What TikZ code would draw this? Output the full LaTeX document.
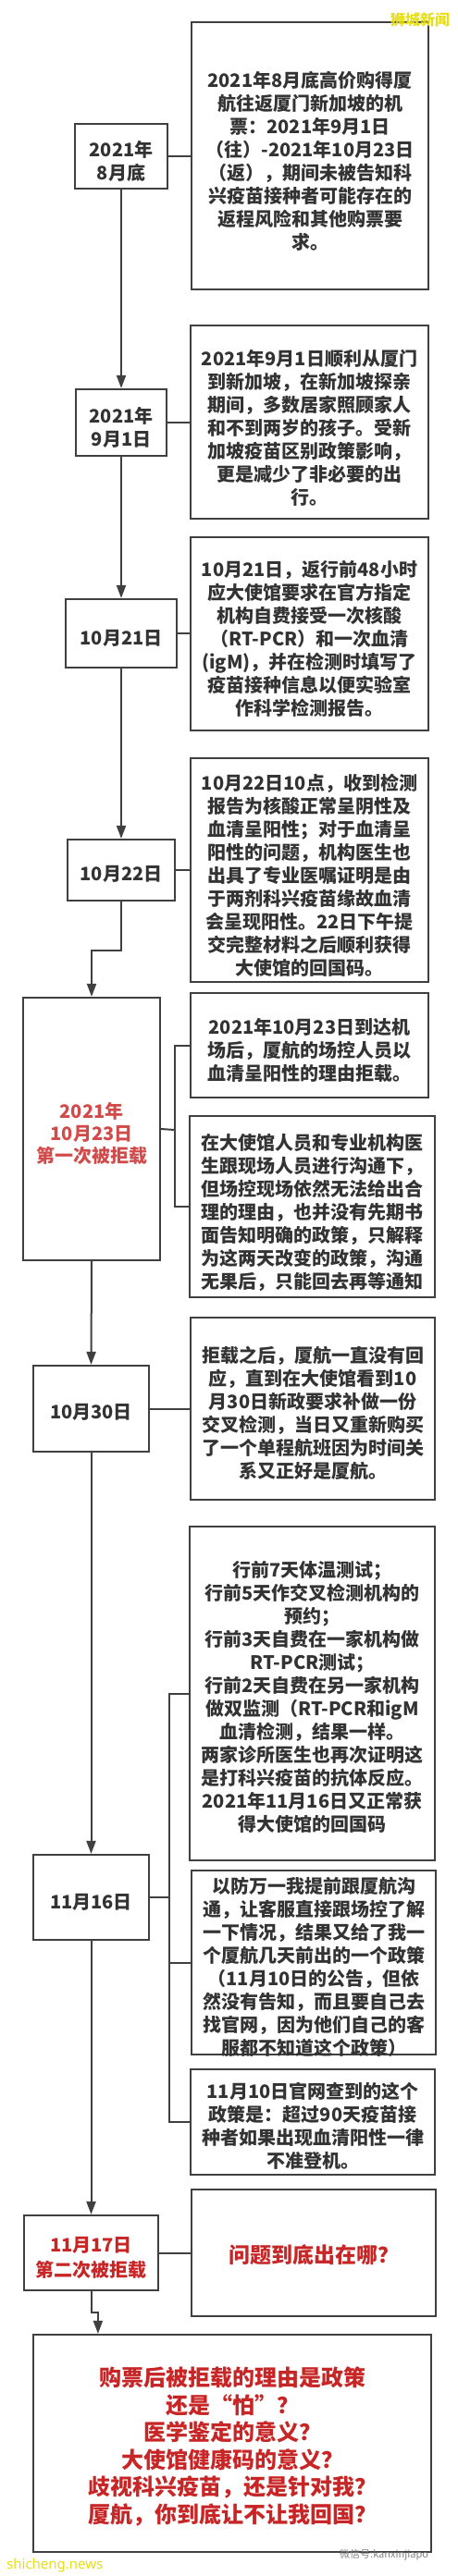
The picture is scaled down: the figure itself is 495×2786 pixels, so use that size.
\documentclass[tikz,border=0pt]{standalone}
\usepackage{fontspec}
\newfontfamily\cjk{Noto Sans CJK SC}
\newfontfamily\latinf{Noto Sans}
\usetikzlibrary{arrows.meta}
\definecolor{ln}{RGB}{64,64,64}
\definecolor{tx}{RGB}{51,51,51}
\definecolor{rd}{RGB}{200,38,38}
\definecolor{rdl}{RGB}{210,75,75}
\definecolor{wmy}{RGB}{232,222,20}
\definecolor{wmg}{RGB}{130,130,130}
\begin{document}
\begin{tikzpicture}[x=1pt,y=-1pt,
  box/.style={draw=ln, line width=2.2pt, fill=white, rectangle, inner sep=0pt},
  txt/.style={align=center, text=tx, font=\cjk\bfseries\fontsize{20}{25}\selectfont, inner sep=0pt},
  rtxt/.style={txt, text=rd},
  conn/.style={draw=ln, line width=2pt},
  arr/.style={conn, -{Triangle[length=14pt,width=10pt]}},
]
\useasboundingbox[fill=white] (0,0) rectangle (495,2786);

% left column boxes
\node[box, minimum width=100pt, minimum height=70pt] (L1) at (131,169) {};
\node[box, minimum width=98pt, minimum height=72pt] (L2) at (131,457) {};
\node[box, minimum width=120pt, minimum height=74pt] (L3) at (131,685) {};
\node[box, minimum width=116pt, minimum height=66pt] (L4) at (131,941) {};
\node[box, minimum width=148pt, minimum height=284pt] (L5) at (99,1221) {};
\node[box, minimum width=125pt, minimum height=93pt] (L6) at (98.5,1523.5) {};
\node[box, minimum width=125pt, minimum height=92pt] (L7) at (98.5,2052) {};
\node[box, minimum width=145pt, minimum height=81pt] (L8) at (98.5,2436.5) {};
\node[box, minimum width=430pt, minimum height=235pt] (Q) at (251,2642.5) {};

% right column boxes
\node[box, minimum width=256pt, minimum height=289pt] (R1) at (335,168.5) {};
\node[box, minimum width=257pt, minimum height=209pt] (R2) at (334.5,456.5) {};
\node[box, minimum width=257pt, minimum height=209pt] (R3) at (334.5,685.5) {};
\node[box, minimum width=257pt, minimum height=242pt] (R4) at (334.5,941) {};
\node[box, minimum width=257pt, minimum height=113pt] (R5a) at (334.5,1130.5) {};
\node[box, minimum width=265pt, minimum height=196pt] (R5b) at (337.5,1305) {};
\node[box, minimum width=264pt, minimum height=197pt] (R6) at (338,1523.5) {};
\node[box, minimum width=265pt, minimum height=361pt] (R7a) at (337.5,1831.5) {};
\node[box, minimum width=264pt, minimum height=199pt] (R7b) at (339,2122.5) {};
\node[box, minimum width=264pt, minimum height=114pt] (R7c) at (338,2295) {};
\node[box, minimum width=264pt, minimum height=137pt] (R8) at (339,2436.5) {};

% texts of left boxes
\node[txt] (L1t) at ([yshift=-5pt]L1.center) {2021年\\8月底};
\node[txt] (L2t) at ([yshift=-5pt]L2.center) {2021年\\9月1日};
\node[txt] (L3t) at ([yshift=-5pt]L3.center) {10月21日};
\node[txt] (L4t) at ([yshift=-4pt]L4.center) {10月22日};
\node[txt, text=rdl, font=\cjk\bfseries\fontsize{20}{24}\selectfont] (L5t) at ([yshift=-5pt]L5.center) {2021年\\10月23日\\第一次被拒载};
\node[txt] (L6t) at ([yshift=-4pt]L6.center) {10月30日};
\node[txt] (L7t) at ([yshift=-5pt]L7.center) {11月16日};
\node[rtxt, font=\cjk\bfseries\fontsize{20}{27}\selectfont] (L8t) at ([yshift=-5pt]L8.center) {11月17日\\第二次被拒载};
\node[rtxt, font=\cjk\bfseries\fontsize{24}{29.6}\selectfont] (Qt) at ([yshift=-3.5pt]Q.center) {购票后被拒载的理由是政策\\还是“怕”？\\医学鉴定的意义？\\大使馆健康码的意义？\\歧视科兴疫苗，还是针对我？\\厦航，你到底让不让我回国？};

% texts of right boxes
\node[txt] (R1t) at ([yshift=-6pt]R1.center) {2021年8月底高价购得厦\\航往返厦门新加坡的机\\票：2021年9月1日\\（往）-2021年10月23日\\（返），期间未被告知科\\兴疫苗接种者可能存在的\\返程风险和其他购票要\\求。};
\node[txt] (R2t) at ([yshift=-6pt]R2.center) {2021年9月1日顺利从厦门\\到新加坡，在新加坡探亲\\期间，多数居家照顾家人\\和不到两岁的孩子。受新\\加坡疫苗区别政策影响，\\更是减少了非必要的出\\行。};
\node[txt] (R3t) at ([yshift=-5pt]R3.center) {10月21日，返行前48小时\\应大使馆要求在官方指定\\机构自费接受一次核酸\\（RT-PCR）和一次血清\\(igM)，并在检测时填写了\\疫苗接种信息以便实验室\\作科学检测报告。};
\node[txt] (R4t) at ([yshift=-6pt]R4.center) {10月22日10点，收到检测\\报告为核酸正常呈阴性及\\血清呈阳性；对于血清呈\\阳性的问题，机构医生也\\出具了专业医嘱证明是由\\于两剂科兴疫苗缘故血清\\会呈现阳性。22日下午提\\交完整材料之后顺利获得\\大使馆的回国码。};
\node[txt] (R5at) at ([yshift=-5pt]R5a.center) {2021年10月23日到达机\\场后，厦航的场控人员以\\血清呈阳性的理由拒载。};
\node[txt] (R5bt) at ([yshift=-6pt]R5b.center) {在大使馆人员和专业机构医\\生跟现场人员进行沟通下，\\但场控现场依然无法给出合\\理的理由，也并没有先期书\\面告知明确的政策，只解释\\为这两天改变的政策，沟通\\无果后，只能回去再等通知};
\node[txt] (R6t) at ([yshift=-5pt]R6.center) {拒载之后，厦航一直没有回\\应，直到在大使馆看到10\\月30日新政要求补做一份\\交叉检测，当日又重新购买\\了一个单程航班因为时间关\\系又正好是厦航。};
\node[txt] (R7at) at ([yshift=-4pt]R7a.center) {行前7天体温测试；\\行前5天作交叉检测机构的\\预约；\\行前3天自费在一家机构做\\RT-PCR测试；\\行前2天自费在另一家机构\\做双监测（RT-PCR和igM\\血清检测，结果一样。\\两家诊所医生也再次证明这\\是打科兴疫苗的抗体反应。\\2021年11月16日又正常获\\得大使馆的回国码};
\node[txt] (R7bt) at ([yshift=-5pt]R7b.center) {以防万一我提前跟厦航沟\\通，让客服直接跟场控了解\\一下情况，结果又给了我一\\个厦航几天前出的一个政策\\（11月10日的公告，但依\\然没有告知，而且要自己去\\找官网，因为他们自己的客\\服都不知道这个政策）};
\node[txt] (R7ct) at ([yshift=-4pt]R7c.center) {11月10日官网查到的这个\\政策是：超过90天疫苗接\\种者如果出现血清阳性一律\\不准登机。};
\node[rtxt, font=\cjk\bfseries\fontsize{23}{23}\selectfont] (R8t) at ([yshift=-2.5pt]R8.center) {问题到底出在哪？};

% horizontal connectors
\draw[conn] (L1.east) -- (L1.east -| R1.west);
\draw[conn] (L2.east) -- (L2.east -| R2.west);
\draw[conn] (L3.east) -- (L3.east -| R3.west);
\draw[conn] (L4.east) -- (L4.east -| R4.west);
\draw[conn] (L6.east) -- (L6.east -| R6.west);
\draw[conn] (L8.east) -- (L8.east -| R8.west);

\coordinate (j5) at (189,1222);
\draw[conn] (L5.east) -- (j5);
\draw[conn] (R5a.west) -| (j5) |- (R5b.west);

\coordinate (j7) at (183,2052);
\draw[conn] (L7.east) -- (j7);
\draw[conn] (R7a.west) -| (j7) |- (R7c.west);
\draw[conn] (j7) |- (R7b.west);

% vertical arrows
\draw[arr] (L1.south) -- (L2.north);
\draw[arr] (L2.south) -- (L3.north);
\draw[arr] (L3.south) -- (L4.north);
\draw[arr] (L4.south) -- ++(0,53) -| (L5.north);
\draw[arr] (L5.south) -- (L6.north);
\draw[arr] (L6.south) -- (L7.north);
\draw[arr] (L7.south) -- (L8.north);
\coordinate (qin) at ([xshift=71pt]Q.north west);
\draw[arr] (L8.south) -- ++(0,23) -| (qin);

% watermarks
\node[font=\cjk\bfseries\fontsize{16}{16}\selectfont, text=wmy, inner sep=0pt] (wm1) at (454,21) {狮城新闻};
\node[font=\latinf\fontsize{15}{15}\selectfont, text=wmy, anchor=west, inner sep=0pt] (wm2) at (7,2775) {shicheng.news};
\node[font=\cjk\fontsize{11}{11}\selectfont, text=wmg, anchor=west, inner sep=0pt] (wm3) at (367,2763) {微信号:kanxinjiapo};
\end{tikzpicture}
\end{document}
